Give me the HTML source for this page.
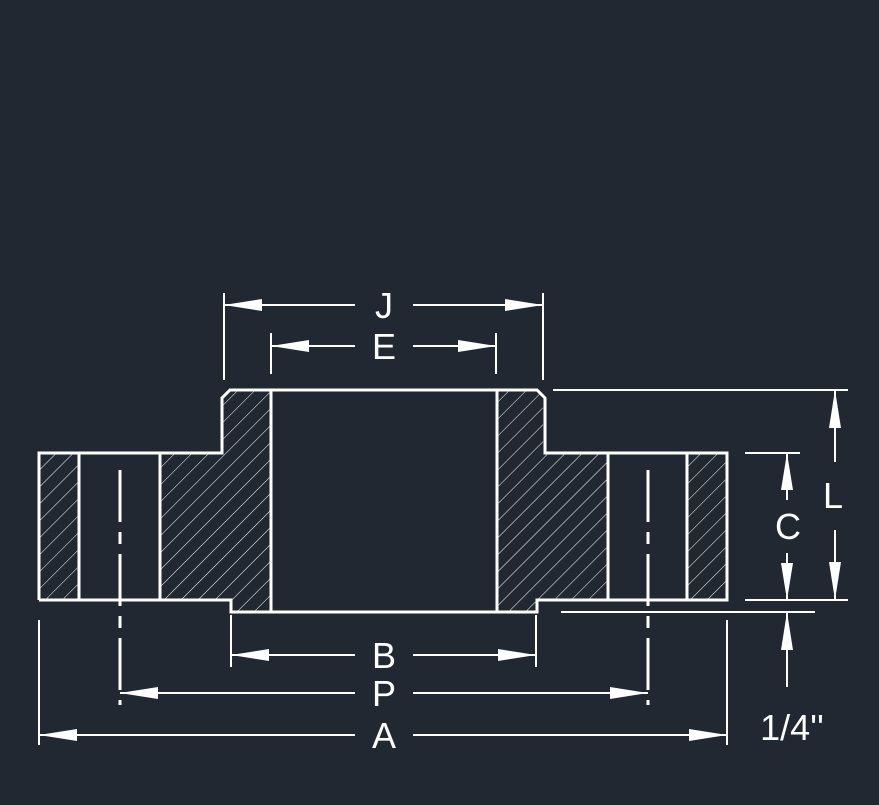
<!DOCTYPE html>
<html><head><meta charset="utf-8"><style>
html,body{margin:0;padding:0;background:#222831;}
svg{display:block}
text{font-family:"Liberation Sans",sans-serif;fill:#fff;font-size:36px;text-anchor:middle}
</style></head><body>
<svg width="879" height="805" viewBox="0 0 879 805">
<defs>
<pattern id="h" patternUnits="userSpaceOnUse" width="12" height="12" patternTransform="rotate(45)">
<line x1="0" y1="0" x2="0" y2="12" stroke="#fff" stroke-width="1"/>
</pattern>
</defs>
<rect width="879" height="805" fill="#222831"/>
<g fill="url(#h)" stroke="none">
<rect x="40" y="454" width="39" height="145"/>
<polygon points="160,454 222,454 222,398 230,391 271,391 271,611 232,611 232,599 160,599"/>
<polygon points="497,391 537,391 543,398 543,454 608,454 608,599 537,599 537,611 497,611"/>
<rect x="687" y="454" width="40" height="145"/>
</g>
<g stroke="#fff" stroke-width="3" fill="none">
<polyline points="39,600 39,453 222,453 222,398 230,390 537,390 545,398 545,453 727,453 727,600 537,600 537,612 231,612 231,600 39,600"/>
<line x1="79" y1="453" x2="79" y2="600"/>
<line x1="160" y1="453" x2="160" y2="600"/>
<line x1="271" y1="390" x2="271" y2="612"/>
<line x1="497" y1="390" x2="497" y2="612"/>
<line x1="608" y1="453" x2="608" y2="600"/>
<line x1="687" y1="453" x2="687" y2="600"/>
<line x1="120" y1="470" x2="120" y2="705" stroke-dasharray="52,10,12,10"/>
<line x1="648" y1="470" x2="648" y2="705" stroke-dasharray="52,10,12,10"/>
</g>
<g stroke="#fff" stroke-width="2" fill="none">
<line x1="224" y1="293" x2="224" y2="380"/><line x1="543" y1="293" x2="543" y2="380"/>
<line x1="224" y1="305" x2="355" y2="305"/><line x1="413" y1="305" x2="543" y2="305"/>
<line x1="271" y1="333" x2="271" y2="374"/><line x1="496" y1="333" x2="496" y2="374"/>
<line x1="271" y1="346" x2="355" y2="346"/><line x1="413" y1="346" x2="496" y2="346"/>
<line x1="231" y1="615" x2="231" y2="667"/><line x1="536" y1="615" x2="536" y2="667"/>
<line x1="231" y1="655" x2="355" y2="655"/><line x1="413" y1="655" x2="536" y2="655"/>
<line x1="120" y1="693" x2="355" y2="693"/><line x1="413" y1="693" x2="648" y2="693"/>
<line x1="39" y1="620" x2="39" y2="745"/><line x1="727" y1="620" x2="727" y2="745"/>
<line x1="39" y1="735" x2="355" y2="735"/><line x1="413" y1="735" x2="727" y2="735"/>
<line x1="553" y1="390" x2="848" y2="390"/>
<line x1="745" y1="453" x2="800" y2="453"/>
<line x1="745" y1="600" x2="848" y2="600"/>
<line x1="561" y1="612" x2="815" y2="612"/>
<line x1="835" y1="390" x2="835" y2="462"/><line x1="835" y1="530" x2="835" y2="600"/>
<line x1="787" y1="453" x2="787" y2="500"/><line x1="787" y1="553" x2="787" y2="600"/>
<line x1="787" y1="612" x2="787" y2="687"/>
</g>
<g fill="#fff">
<polygon points="224,305 262,299 262,311"/><polygon points="543,305 505,299 505,311"/>
<polygon points="271,346 309,340 309,352"/><polygon points="496,346 458,340 458,352"/>
<polygon points="231,655 269,649 269,661"/><polygon points="536,655 498,649 498,661"/>
<polygon points="120,693 158,687 158,699"/><polygon points="648,693 610,687 610,699"/>
<polygon points="39,735 77,729 77,741"/><polygon points="727,735 689,729 689,741"/>
<polygon points="835,390 829,428 841,428"/><polygon points="835,600 829,562 841,562"/>
<polygon points="787,453 781,490 793,490"/><polygon points="787,600 781,563 793,563"/>
<polygon points="787,612 781,650 793,650"/>
</g>
<text x="384" y="318">J</text>
<text x="384" y="359">E</text>
<text x="384" y="668">B</text>
<text x="384" y="706">P</text>
<text x="384" y="748">A</text>
<text x="788" y="539">C</text>
<text x="833" y="508">L</text>
<text x="792" y="740">1/4''</text>
</svg>
</body></html>
